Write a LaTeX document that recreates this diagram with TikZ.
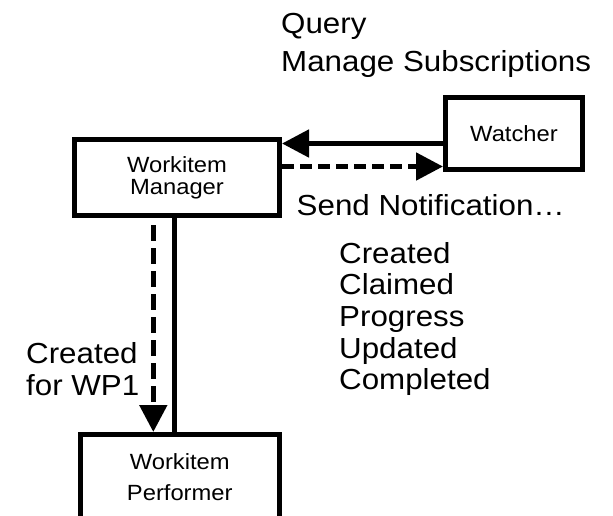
\documentclass[tikz,border=0pt]{standalone}
\usepackage{fontspec}
\setmainfont[FakeStretch=1.08]{Liberation Sans}
\usetikzlibrary{arrows.meta}
\tikzset{
  boxnode/.style={draw, line width=5pt, inner sep=0pt, align=center},
  conn/.style={line width=5pt},
  dashconn/.style={line width=5pt, dash pattern=on 12pt off 6pt},
  vdashconn/.style={line width=5pt, dash pattern=on 16pt off 7pt, dash phase=16pt},
  tip/.style={-{Triangle[length=27pt,width=27pt]}},
  lbl/.style={inner sep=0pt, anchor=base west, font=\fontsize{29}{31.7}\selectfont},
}
\begin{document}
\begin{tikzpicture}[x=1pt,y=-1pt]
\clip (0,0) rectangle (613,515);
\fill[white] (0,0) rectangle (613,515);

\node[boxnode, minimum width=205pt, minimum height=76pt,
      font=\fontsize{22}{22}\selectfont] (mgr) at (177,177.5) {Workitem\\Manager};
\node[boxnode, minimum width=137pt, minimum height=72pt,
      font=\fontsize{22}{22}\selectfont] (wat) at (514,133.5) {Watcher};
\node[boxnode, minimum width=199.5pt, minimum height=85pt,
      font=\fontsize{22}{31.7}\selectfont] (perf) at (179.75,477) {Workitem\\Performer};

\draw[conn, tip] (wat.west |- 0,143.5) -- (mgr.east |- 0,143.5);
\draw[dashconn, tip] (mgr.east |- 0,166.5) -- (wat.west |- 0,166.5);
\draw[vdashconn, tip] (mgr.south -| 153.3,0) -- (perf.north -| 153.3,0);
\draw[conn] (mgr.south -| 174,0) -- (perf.north -| 174,0);

\node[lbl, font=\fontsize{29}{38.5}\selectfont] (q) at (281,33)
  {\vtop{\hbox{Query}\hbox{Manage Subscriptions}}};
\node[lbl] (sn) at (296.5,215.5) {Send Notification…};
\node[lbl] (st) at (339,263)
  {\vtop{\hbox{Created}\hbox{Claimed}\hbox{Progress}\hbox{Updated}\hbox{Completed}}};
\node[lbl, font=\fontsize{29}{32}\selectfont] (cw) at (26,363)
  {\vtop{\hbox{Created}\hbox{for WP1}}};
\end{tikzpicture}
\end{document}
